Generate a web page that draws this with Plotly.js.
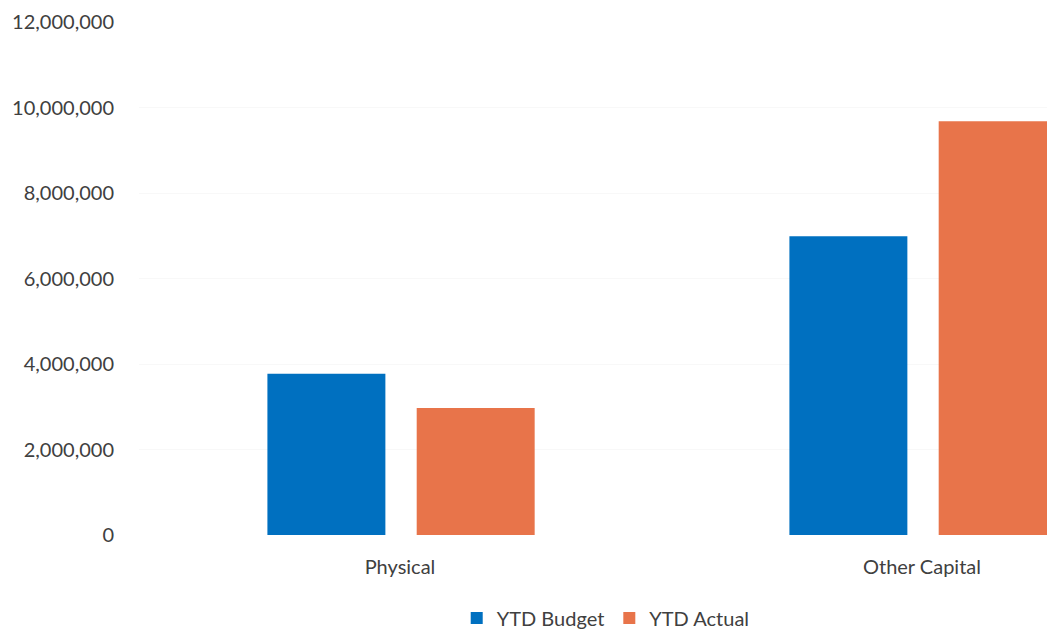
<!DOCTYPE html>
<html>
<head>
<meta charset="utf-8">
<script src="https://cdn.plot.ly/plotly-3.0.1.min.js"></script>
<style>html,body{margin:0;padding:0;background:#fff;}#chart{width:1047px;height:629px;}</style>
</head>
<body>
<div id="chart"></div>
<script>
const categories = ["Physical", "Other Capital"];
const ytdBudget = [3770000, 6990000];
const ytdActual = [2970000, 9680000];
const yTickValues = [0, 2000000, 4000000, 6000000, 8000000, 10000000, 12000000];
const yTickLabels = ["0", "2,000,000", "4,000,000", "6,000,000", "8,000,000", "10,000,000", "12,000,000"];

const fontFam = "Lato, 'Open Sans', sans-serif";
const traces = [
  {type: "bar", name: "YTD Budget", x: categories, y: ytdBudget,
   marker: {color: "#0070C0"}, width: 0.226, offset: -0.254, hoverinfo: "none"},
  {type: "bar", name: "YTD Actual", x: categories, y: ytdActual,
   marker: {color: "#E8744A"}, width: 0.226, offset: 0.032, hoverinfo: "none"}
];
const layout = {
  width: 1047, height: 629,
  margin: {l: 139, r: 0, t: 22, b: 94, autoexpand: false},
  paper_bgcolor: "#fff", plot_bgcolor: "#fff",
  barmode: "group",
  font: {family: fontFam, size: 20, color: "#404040"},
  xaxis: {type: "category", range: [-0.5, 1.2395], showgrid: false, zeroline: false,
          showline: false, ticks: "outside", ticklen: 14, tickcolor: "rgba(0,0,0,0)",
          automargin: false,
          tickfont: {family: fontFam, size: 20, color: "#404040"}},
  yaxis: {range: [0, 12000000], tickvals: yTickValues, ticktext: yTickLabels,
          showgrid: true, gridcolor: "#f8f8f8", zeroline: false, showline: false,
          ticks: "outside", ticklen: 20, tickcolor: "rgba(0,0,0,0)", automargin: false,
          tickfont: {family: fontFam, size: 20, color: "#404040"}},
  showlegend: true,
  legend: {orientation: "h", x: 0.514, xanchor: "center", y: -0.162, yanchor: "middle",
           font: {family: fontFam, size: 20, color: "#404040"}, itemwidth: 30, traceorder: "normal"}
};
Plotly.newPlot("chart", traces, layout, {displayModeBar: false, staticPlot: true});
</script>
</body>
</html>
